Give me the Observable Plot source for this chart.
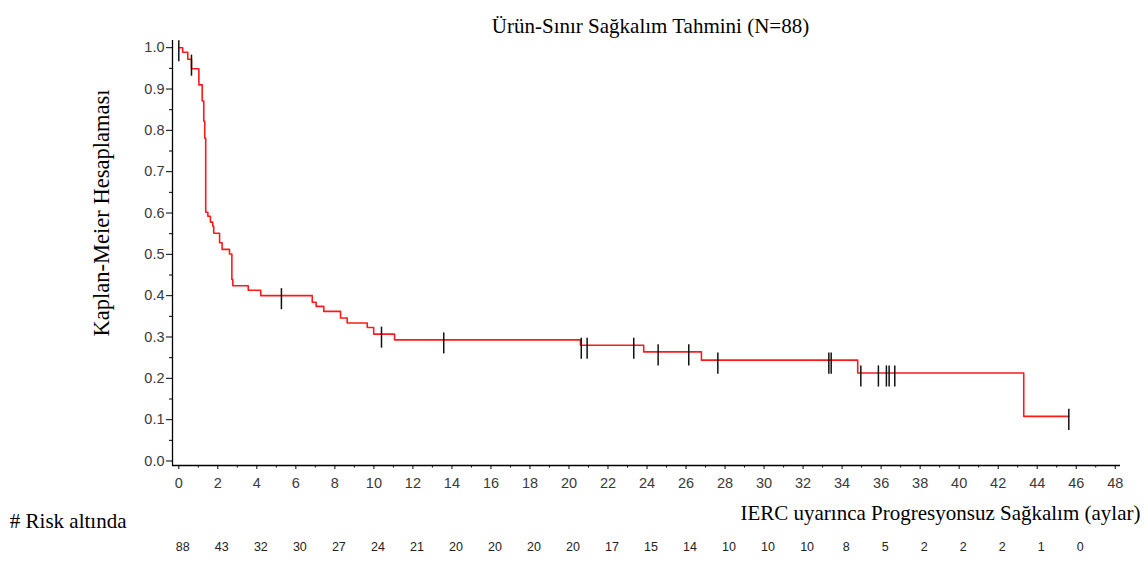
<!DOCTYPE html>
<html>
<head>
<meta charset="utf-8">
<script src="https://cdn.jsdelivr.net/npm/d3@7"></script>
<script src="https://cdn.jsdelivr.net/npm/@observablehq/plot@0.6"></script>
<style>
  html, body { margin: 0; padding: 0; background: #fff; }
  #chart svg { display: block; }
</style>
</head>
<body>
<div id="chart"></div>
<script>
// ---- data ----
const titleText = "Ürün-Sınır Sağkalım Tahmini (N=88)";
const yLabelText = "Kaplan-Meier Hesaplaması";
const xLabelText = "IERC uyarınca Progresyonsuz Sağkalım (aylar)";
const riskLabelText = "# Risk altında";

const xMajorTicks = d3.range(0, 49, 2);
const xMinorTicks = d3.range(1, 48, 2);
const yMajorTicks = [0, 0.1, 0.2, 0.3, 0.4, 0.5, 0.6, 0.7, 0.8, 0.9, 1.0];
const yMinorTicks = [0.05, 0.15, 0.25, 0.35, 0.45, 0.55, 0.65, 0.75, 0.85, 0.95];

const riskTimes = d3.range(0, 47, 2);
const atRisk = [88, 43, 32, 30, 27, 24, 21, 20, 20, 20, 20, 17, 15, 14, 10, 10, 10, 8, 5, 2, 2, 2, 1, 0];

// Kaplan-Meier step curve (time in months, survival)
const kmTime = [0, 0.2, 0.46, 0.65, 1.03, 1.2, 1.28, 1.33, 1.38, 1.49, 1.62, 1.74, 1.79, 2.09, 2.22, 2.6, 2.72, 2.77, 3.56, 4.2, 6.84, 7.04, 7.43, 8.29, 8.63, 9.66, 9.99, 11.06, 20.59, 23.83, 26.79, 34.8, 43.31, 45.62];
const kmSurv = [1.0, 0.989, 0.972, 0.949, 0.91, 0.871, 0.822, 0.781, 0.602, 0.592, 0.578, 0.568, 0.551, 0.528, 0.512, 0.501, 0.439, 0.424, 0.413, 0.4, 0.384, 0.374, 0.362, 0.346, 0.334, 0.323, 0.307, 0.293, 0.28, 0.264, 0.244, 0.213, 0.108, 0.108];

// censored observations
const censorTime = [0.0, 0.65, 5.26, 10.39, 13.58, 20.63, 20.93, 23.32, 24.57, 26.14, 27.63, 33.32, 33.44, 34.96, 35.86, 36.27, 36.41, 36.7, 45.62];
const censorSurv = [1.0, 0.965, 0.4, 0.307, 0.293, 0.28, 0.28, 0.28, 0.264, 0.264, 0.244, 0.244, 0.244, 0.213, 0.213, 0.213, 0.213, 0.213, 0.108];

// ---- tables built from arrays ----
const km = kmTime.map((t, i) => ({t, s: kmSurv[i]}));
const censored = censorTime.map((t, i) => ({t, s: censorSurv[i]}));
const risk = riskTimes.map((t, i) => ({t, n: atRisk[i]}));

const xDomain = [-0.323, 48.27];
const yDomain = [-0.0109, 1.0174];
const serif = "'Liberation Serif', 'Times New Roman', serif";

const chart = Plot.plot({
  width: 1144,
  height: 565,
  marginLeft: 172,
  marginRight: 24,
  marginTop: 40,
  marginBottom: 100,
  style: {fontFamily: "'Liberation Sans', Arial, sans-serif", fontSize: "14.5px", color: "#000", background: "#fff"},
  x: {domain: xDomain, label: null},
  y: {domain: yDomain, label: null},
  marks: [
    // axes
    Plot.axisY({ticks: yMajorTicks, tickSize: 6, tickPadding: 2, tickFormat: d3.format(".1f"), fill: "#3a3a3a", fontSize: 14.5, label: null}),
    Plot.axisY({ticks: yMinorTicks, tickSize: 3, text: null, label: null}),
    Plot.axisX({ticks: xMajorTicks, tickSize: 4, tickPadding: 8, tickFormat: d => String(d), fill: "#3a3a3a", fontSize: 14.5, label: null}),
    Plot.axisX({ticks: xMinorTicks, tickSize: 2.5, text: null, label: null}),
    Plot.ruleY([yDomain[0]], {stroke: "#000", strokeWidth: 1.3}),
    Plot.ruleX([xDomain[0]], {stroke: "#000", strokeWidth: 1.3}),
    // curve
    Plot.line(km, {x: "t", y: "s", curve: "step-after", stroke: "#ff1a1a", strokeWidth: 1.6}),
    // censor marks
    Plot.ruleX(censored, {x: "t", y1: d => d.s + 0.017, y2: d => d.s - 0.034, stroke: "#111", strokeWidth: 1.5}),
    // number at risk
    Plot.text(risk, {x: "t", text: d => String(d.n), frameAnchor: "bottom", dy: 85, dx: 4, fontSize: 12.5, fill: "#222"}),
    // texts
    Plot.text([titleText], {frameAnchor: "top", textAnchor: "middle", dy: -22, dx: 4, fontFamily: serif, fontSize: 21, fill: "#000"}),
    Plot.text([yLabelText], {frameAnchor: "left", textAnchor: "middle", rotate: -90, dx: -71, dy: -40, fontFamily: serif, fontSize: 22.5, fill: "#000"}),
    Plot.text([xLabelText], {frameAnchor: "bottom-right", textAnchor: "end", dx: 20, dy: 54, fontFamily: serif, fontSize: 21, fill: "#000"}),
    Plot.text([riskLabelText], {frameAnchor: "bottom-left", textAnchor: "end", dx: -46, dy: 62, fontFamily: serif, fontSize: 21, fill: "#000"})
  ]
});
document.getElementById("chart").appendChild(chart);
</script>
</body>
</html>
